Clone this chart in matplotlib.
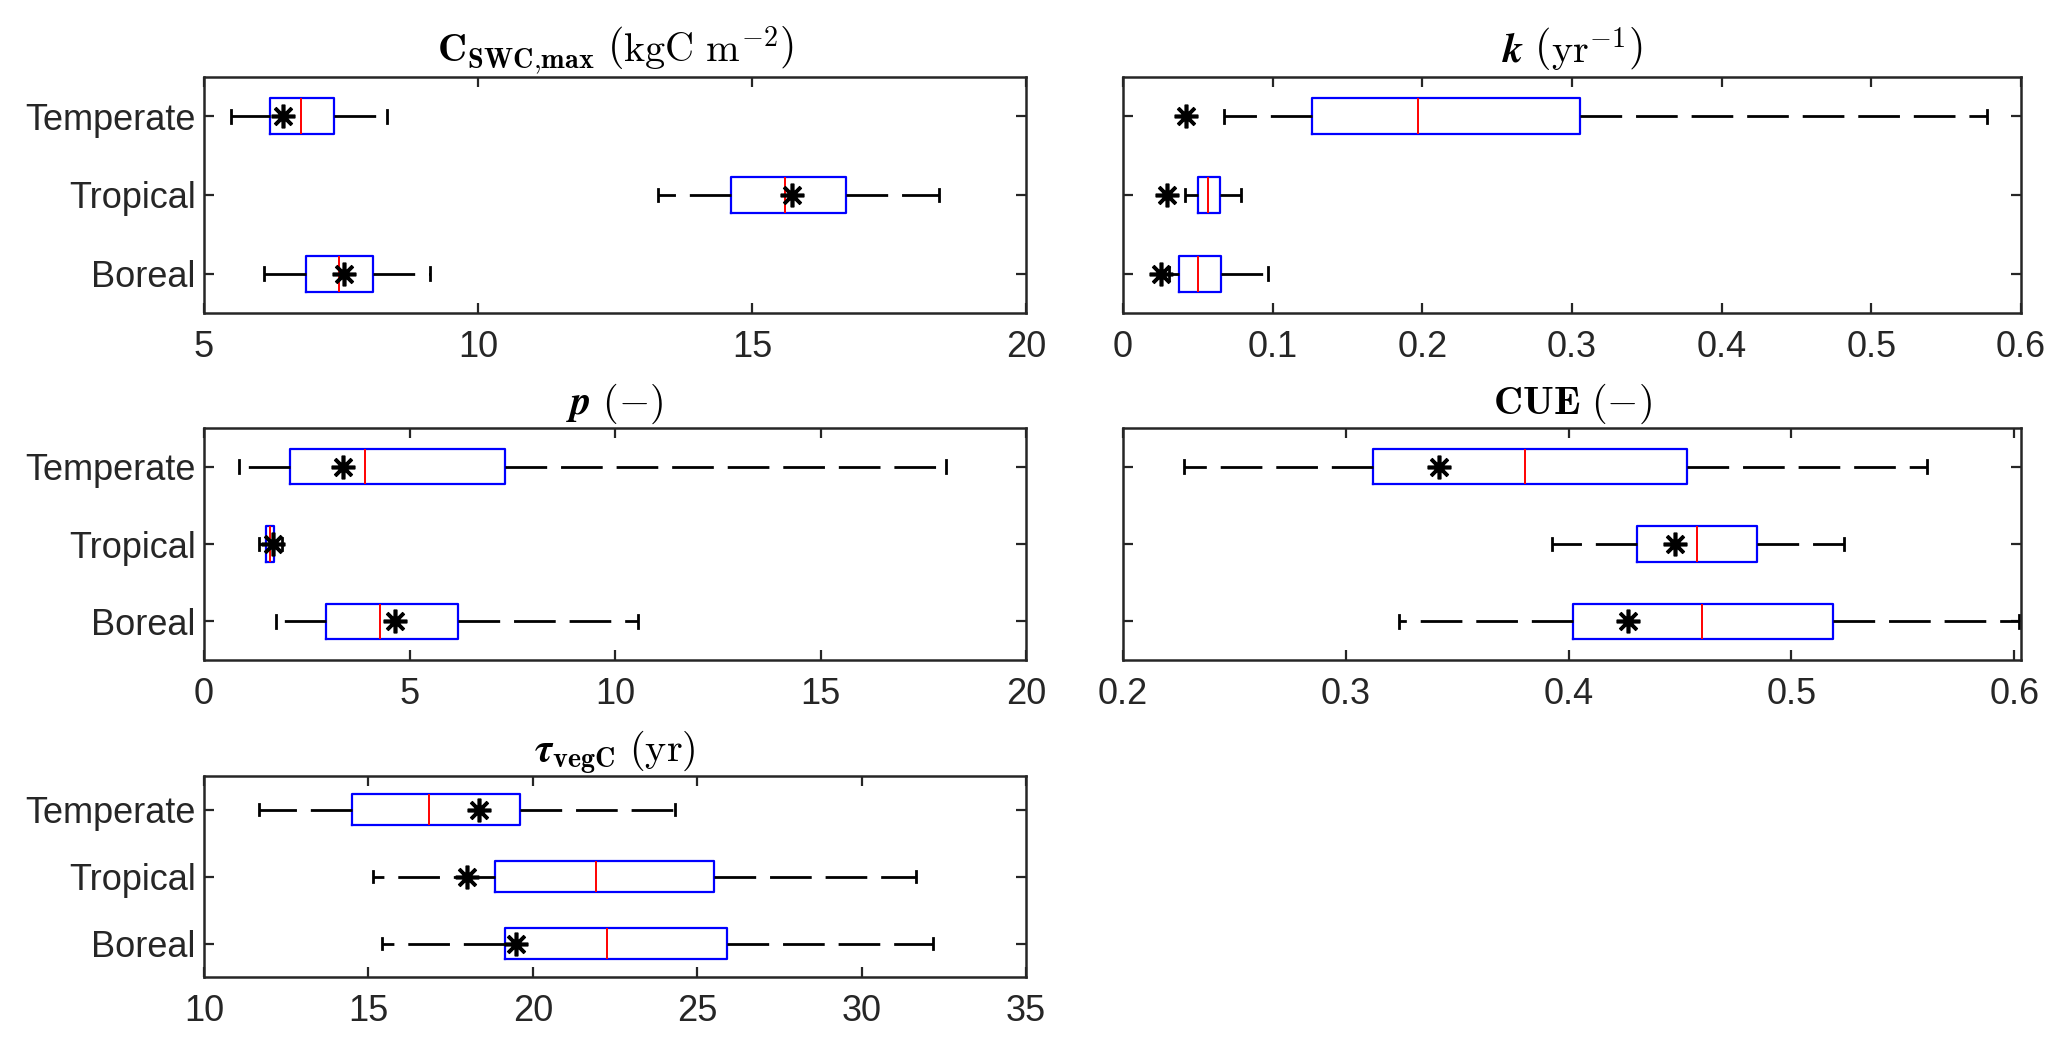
import matplotlib
matplotlib.use("Agg")
import matplotlib.pyplot as plt
from matplotlib.ticker import FormatStrFormatter

plt.rcParams['font.family'] = ['Liberation Sans', 'DejaVu Sans']
plt.rcParams['mathtext.fontset'] = 'cm'

categories = ['Boreal', 'Tropical', 'Temperate']

# Panel 1: C_SWC,max
c_whislo = [6.10, 13.29, 5.49]
c_q1 = [6.86, 14.61, 6.21]
c_med = [7.46, 15.61, 6.77]
c_q3 = [8.09, 16.71, 7.38]
c_whishi = [9.12, 18.41, 8.34]
c_star = [7.55, 15.73, 6.45]

# Panel 2: k
k_whislo = [0.031, 0.0412, 0.0672]
k_q1 = [0.0377, 0.0503, 0.126]
k_med = [0.0503, 0.0568, 0.197]
k_q3 = [0.0655, 0.065, 0.3056]
k_whishi = [0.0967, 0.0789, 0.5775]
k_star = [0.0256, 0.0295, 0.042]

# Panel 3: p
p_whislo = [1.74, 1.35, 0.85]
p_q1 = [2.97, 1.50, 2.09]
p_med = [4.29, 1.60, 3.91]
p_q3 = [6.19, 1.70, 7.33]
p_whishi = [10.55, 1.90, 18.06]
p_star = [4.65, 1.68, 3.37]

# Panel 4: CUE
u_whislo = [0.324, 0.3927, 0.2274]
u_q1 = [0.402, 0.4306, 0.3121]
u_med = [0.4597, 0.4576, 0.3805]
u_q3 = [0.5188, 0.4844, 0.4533]
u_whishi = [0.6023, 0.5237, 0.561]
u_star = [0.4265, 0.4475, 0.3418]

# Panel 5: tau_vegC
t_whislo = [15.42, 15.15, 11.67]
t_q1 = [19.16, 18.86, 14.50]
t_med = [22.26, 21.92, 16.85]
t_q3 = [25.91, 25.50, 19.62]
t_whishi = [32.17, 31.66, 24.34]
t_star = [19.49, 17.99, 18.35]

titles = [
    r'$\mathbf{C}_{\mathbf{SWC{,}max}}\ \left(\mathrm{kgC\ m^{-2}}\right)$',
    r'$\boldsymbol{k}\ \left(\mathrm{yr^{-1}}\right)$',
    r'$\boldsymbol{p}\ (-)$',
    r'$\mathbf{CUE}\ (-)$',
    r'$\boldsymbol{\tau}_{\mathbf{vegC}}\ (\mathrm{yr})$',
]

xlims = [(5, 20), (0, 0.6), (0, 20), (0.2, 0.603), (10, 35)]
xticks = [[5, 10, 15, 20], [0, 0.1, 0.2, 0.3, 0.4, 0.5, 0.6], [0, 5, 10, 15, 20],
          [0.2, 0.3, 0.4, 0.5, 0.6], [10, 15, 20, 25, 30, 35]]

panels = [
    (c_whislo, c_q1, c_med, c_q3, c_whishi, c_star),
    (k_whislo, k_q1, k_med, k_q3, k_whishi, k_star),
    (p_whislo, p_q1, p_med, p_q3, p_whishi, p_star),
    (u_whislo, u_q1, u_med, u_q3, u_whishi, u_star),
    (t_whislo, t_q1, t_med, t_q3, t_whishi, t_star),
]

W, H = 2067, 1045
rects_px = [
    (204, 77, 1026, 313),
    (1123, 77, 2021, 313),
    (204, 428, 1026, 660),
    (1123, 428, 2021, 660),
    (204, 776, 1026, 977),
]

fig = plt.figure(figsize=(W / 200, H / 200), dpi=200)
ink = '#262626'

for i, (data, (x0, y0, x1, y1)) in enumerate(zip(panels, rects_px)):
    ax = fig.add_axes([x0 / W, 1 - y1 / H, (x1 - x0) / W, (y1 - y0) / H])
    wl, q1, md, q3, wh, st = data
    stats = [dict(whislo=a, q1=b, med=c, q3=d, whishi=e, fliers=[], label=lab)
             for a, b, c, d, e, lab in zip(wl, q1, md, q3, wh, categories)]
    pos = list(range(1, len(categories) + 1))
    ax.bxp(stats, positions=pos, vert=False, widths=0.46, capwidths=0.16,
           showfliers=False,
           boxprops=dict(color='blue', linewidth=0.8),
           medianprops=dict(color='red', linewidth=0.7),
           whiskerprops=dict(color='black', linewidth=1.0, linestyle=(0, (15, 5))),
           capprops=dict(color='black', linewidth=1.0))
    ax.plot(st, pos, linestyle='none', marker=(8, 2, 0), markersize=8.5,
            markeredgewidth=1.3, color='black', zorder=5)
    ax.set_xlim(*xlims[i])
    ax.set_ylim(0.5, 3.5)
    ax.set_xticks(xticks[i])
    ax.xaxis.set_major_formatter(FormatStrFormatter('%g'))
    ax.set_yticks(pos)
    if i in (0, 2, 4):
        ax.set_yticklabels(categories)
    else:
        ax.set_yticklabels([])
    ax.tick_params(axis='both', direction='in', top=True, right=True,
                   length=3.5, width=0.8, color=ink, labelcolor=ink,
                   labelsize=13)
    ax.tick_params(axis='x', pad=6)
    ax.tick_params(axis='y', pad=3)
    for s in ax.spines.values():
        s.set_color(ink)
        s.set_linewidth(0.9)
    ax.set_title(titles[i], fontsize=14.5, pad=5, color='black')

fig.savefig('out.png', dpi=200)
